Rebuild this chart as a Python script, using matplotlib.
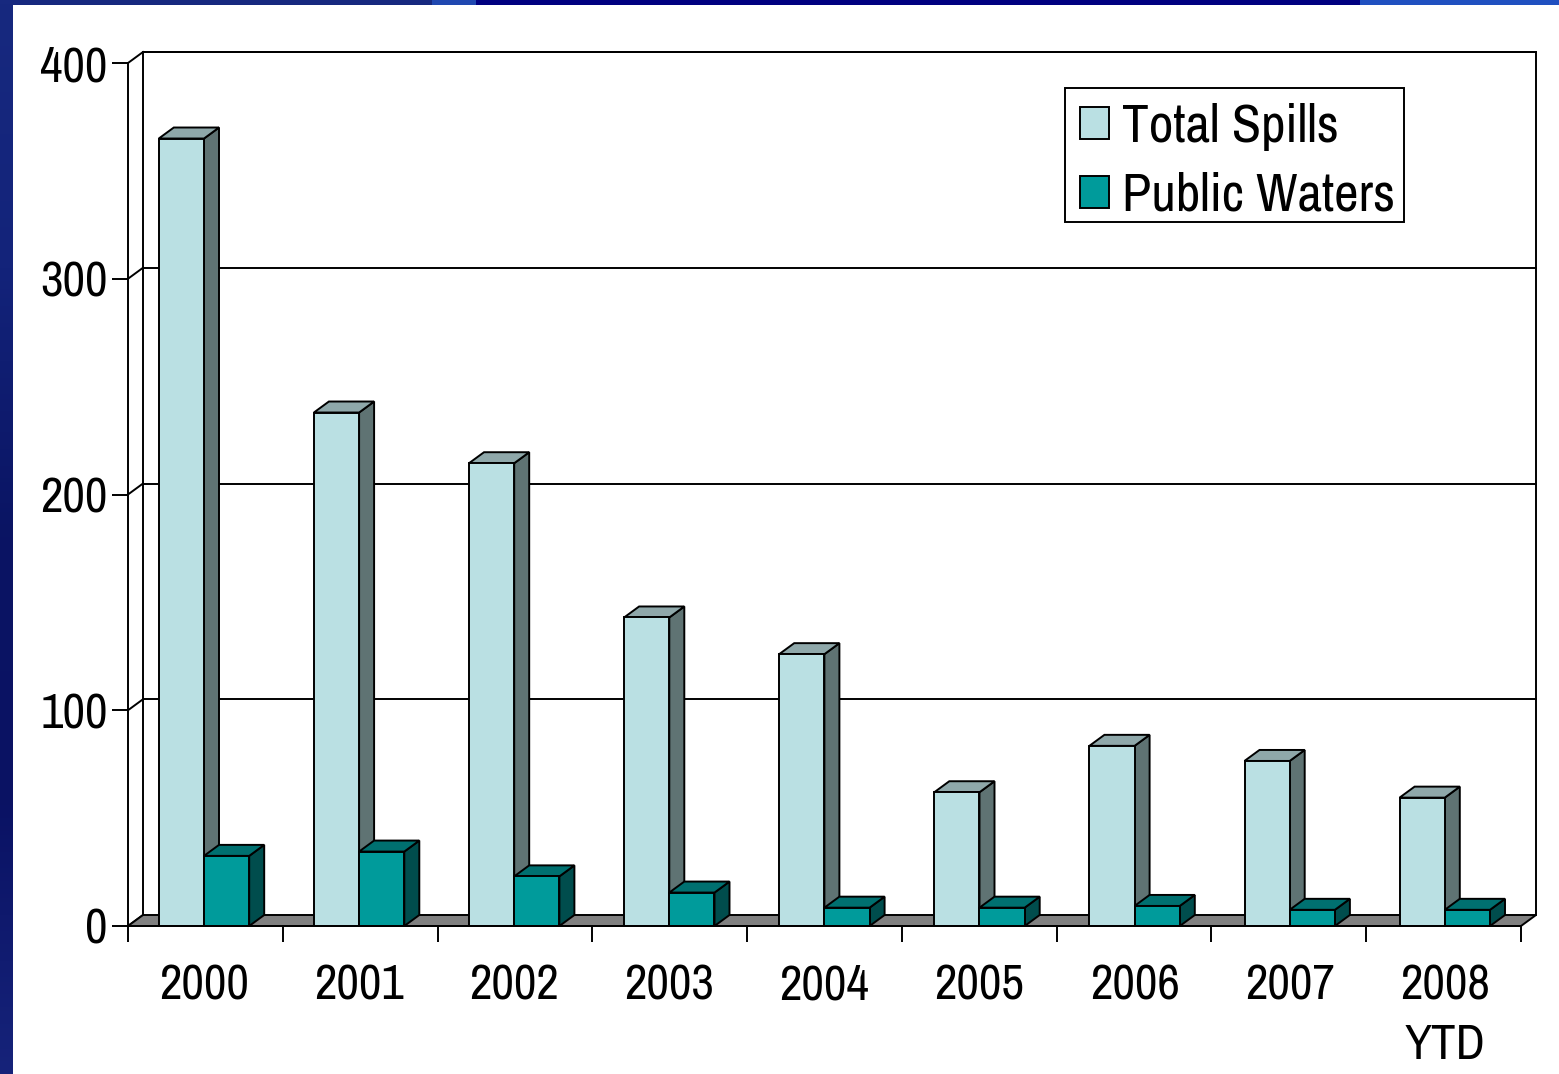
import matplotlib
matplotlib.use("Agg")
import matplotlib.pyplot as plt
import matplotlib.font_manager as fm
from matplotlib.patches import Rectangle, Patch
from matplotlib.colors import LinearSegmentedColormap
import numpy as np

years = ["2000", "2001", "2002", "2003", "2004", "2005", "2006", "2007", "2008\nYTD"]
total_spills = [365, 238, 214.5, 143, 126, 62, 83.5, 76.5, 59.5]
public_waters = [32.5, 34.5, 23, 15.5, 8.5, 8.5, 9.3, 7.5, 7.5]
y_ticks = [0, 100, 200, 300, 400]

W, H = 1559, 1074
installed = {f.name for f in fm.fontManager.ttflist}
prefs = ["Arial Narrow", "Liberation Sans Narrow", "Archivo Narrow", "Roboto Condensed",
         "IBM Plex Sans Condensed", "Sofia Sans Condensed", "Liberation Sans"]
chosen = next(p for p in prefs if p in installed)
plt.rcParams["font.family"] = [chosen, "DejaVu Sans"]
plt.rcParams["font.weight"] = "medium"
fig = plt.figure(figsize=(W / 100, H / 100), dpi=100)

# slide background
bg = fig.add_axes([0, 0, 1, 1], zorder=0)
cmap = LinearSegmentedColormap.from_list("slide", ["#17297f", "#13237a", "#0a1463", "#0a1264", "#16237a"])
bg.imshow(np.linspace(0, 1, 256).reshape(-1, 1), cmap=cmap, aspect="auto", extent=[0, W, H, 0])
bg.add_patch(Rectangle((432, 0), 44, 5, fc="#2048b0", ec="none"))
bg.add_patch(Rectangle((476, 0), 884, 5, fc="#000080", ec="none"))
bg.add_patch(Rectangle((1360, 0), 199, 5, fc="#2050c0", ec="none"))
bg.add_patch(Rectangle((13, 5), W - 13, H - 5, fc="white", ec="none"))
bg.set_xlim(0, W)
bg.set_ylim(H, 0)
bg.axis("off")

L, R, T, B = 128, 1521, 63, 926
ax = fig.add_axes([L / W, 1 - B / H, (R - L) / W, (B - T) / H], zorder=1)
ax.patch.set_alpha(0)
ax.set_xlim(0, 9)
ax.set_ylim(0, 400)
unit = (R - L) / 9
dx = 15 / unit
dy = 11 / ((B - T) / 400)
LW = 1.4
BW = 45.2 / unit
centers = [(76 + 155.1 * i) / unit for i in range(len(years))]


def poly(xs, ys, fc, z):
    ax.fill(xs, ys, fc=fc, ec="black", lw=LW, clip_on=False, zorder=z, joinstyle="miter")


# walls and floor
poly([0, dx, 9 + dx, 9], [0, dy, dy, 0], "#808080", 2)
ax.plot([dx, dx, 9 + dx, 9 + dx], [dy, 400 + dy, 400 + dy, dy], color="black", lw=LW, clip_on=False, zorder=1.5)
for v in y_ticks:
    ax.plot([0, dx], [v, v + dy], color="black", lw=LW, clip_on=False, zorder=1.5)
    if v > 0:
        ax.plot([dx, 9 + dx], [v + dy, v + dy], color="black", lw=LW, clip_on=False, zorder=1.5)


def bar3d(x, v, front, top, side, z):
    poly([x + BW, x + BW + dx, x + BW + dx, x + BW], [0, dy, v + dy, v], side, z)
    poly([x, x + dx, x + BW + dx, x + BW], [v, v + dy, v + dy, v], top, z)
    ax.bar(x, v, BW, align="edge", color=front, edgecolor="black", lw=LW, clip_on=False, zorder=z + 0.1)


for i, (a, b) in enumerate(zip(total_spills, public_waters)):
    bar3d(centers[i] - BW, a, "#bae0e3", "#8fa8aa", "#5f7373", 3 + i * 0.5)
    bar3d(centers[i], b, "#009b9b", "#007070", "#004d4d", 3.2 + i * 0.5)

for s in ("top", "right"):
    ax.spines[s].set_visible(False)
for s in ("left", "bottom"):
    ax.spines[s].set_linewidth(LW)
    ax.spines[s].set_zorder(10)

ax.set_yticks(y_ticks)
ax.set_yticklabels([str(v) for v in y_ticks], fontsize=35.5)
ax.tick_params(axis="y", length=11.5, width=LW, pad=3)
ax.set_xticks(np.arange(10))
ax.set_xticklabels([])
ax.tick_params(axis="x", which="major", length=11.5, width=LW)
ax.set_xticks(centers, minor=True)
ax.set_xticklabels(years, minor=True, fontsize=35.5, linespacing=1.4)
ax.tick_params(axis="x", which="minor", length=0, pad=27)

# legend box drawn separately so its padding can differ per side
ax.add_patch(Rectangle((1065, 88), 339, 134, transform=bg.transData, fc="white", ec="black",
                       lw=LW, clip_on=False, zorder=19))
handles = [Patch(fc="#bae0e3", ec="black", lw=LW, label="Total Spills"),
           Patch(fc="#009b9b", ec="black", lw=LW, label="Public Waters")]
leg = ax.legend(handles=handles, loc="upper left",
                bbox_to_anchor=(1080 / W, 1 - 103 / H), bbox_transform=fig.transFigure,
                fontsize=38.5, frameon=False,
                handlelength=0.54, handleheight=0.54, handletextpad=0.24, labelspacing=0.39,
                borderpad=0, borderaxespad=0)
leg.set_zorder(20)

fig.savefig("out.png", dpi=100)
